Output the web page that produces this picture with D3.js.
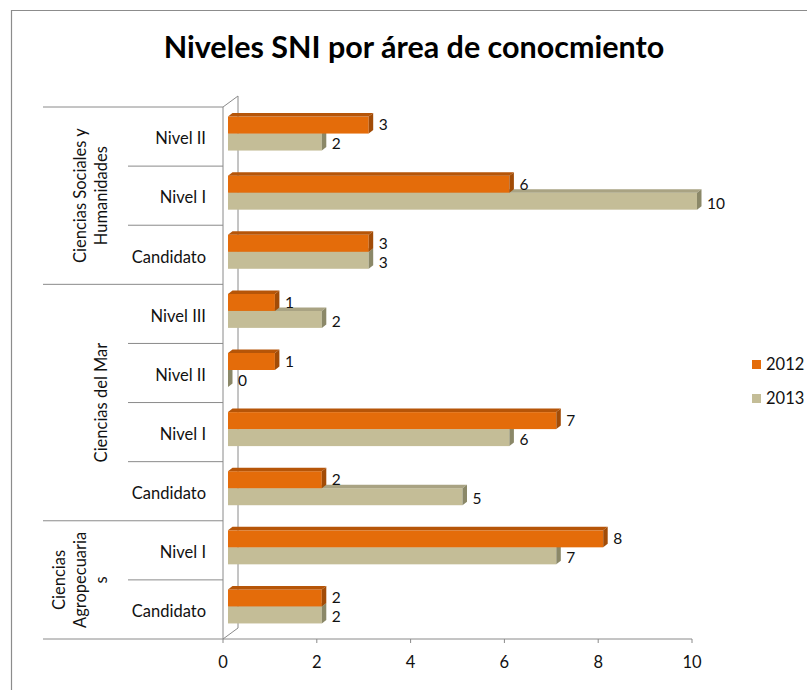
<!DOCTYPE html>
<meta charset="utf-8">
<div id="chart"></div>
<style>
body { margin: 0; background: #fff; font-family: 'Lato', 'Liberation Sans', sans-serif; }
</style>
<script src="https://d3js.org/d3.v7.min.js"></script>
<script>
// data, top to bottom as in the picture
var series = ["2012", "2013"];
var categories = ["Nivel II", "Nivel I", "Candidato", "Nivel III", "Nivel II", "Nivel I", "Candidato", "Nivel I", "Candidato"];
var categoryGroup = [0, 0, 0, 1, 1, 1, 1, 2, 2];
var groupNames = [["Ciencias Sociales y", "Humanidades"], ["Ciencias del Mar"], ["Ciencias", "Agropecuaria", "s"]];
var values2012 = [3, 6, 3, 1, 1, 7, 2, 8, 2];
var values2013 = [2, 10, 3, 2, 0, 6, 5, 7, 2];
var xTicks = [0, 2, 4, 6, 8, 10];

var colors = {
  "2012": { front: "#e46c0a", top: "#b65508", side: "#a24c07" },
  "2013": { front: "#c4bd97", top: "#a9a383", side: "#8b8868" }
};

var w = 807, h = 690;
var fs = "16.5px";
var svg = d3.select("#chart").append("svg").attr("width", w).attr("height", h);

// outer frame
svg.append("path")
  .attr("d", "M11.5," + h + "V10.5H" + w)
  .attr("fill", "none").attr("stroke", "#8c8c8c").attr("stroke-width", 1.2);

svg.append("text")
  .attr("x", 414).attr("y", 58)
  .attr("text-anchor", "middle")
  .style("font-size", "30.5px").style("font-weight", "bold")
  .text("Niveles SNI por área de conocmiento");

var x = d3.scaleLinear().domain([0, 10]).range([223, 692]);
var y = d3.scaleBand().domain(d3.range(categories.length)).range([107, 639]);
var yS = d3.scaleBand().domain(series).range([-20, 14]);

var wallDx = 15, wallDy = -11;   // depth of the walls
var barOff = 5;                  // bars sit a bit behind the front axis
var dx = 4.5, dy = 3.5;          // depth of each bar

var grey = "#8a8a8a";
var axes = svg.append("g").attr("fill", "none").attr("stroke", grey).attr("stroke-width", 1);

// back wall + front axis
axes.append("path").attr("d",
  "M" + x(0) + "," + y.range()[0] + "l" + wallDx + "," + wallDy +
  "V" + (y.range()[1] + wallDy) + "L" + x(0) + "," + y.range()[1]);
axes.append("line").attr("x1", x(0)).attr("x2", x(0)).attr("y1", y.range()[0]).attr("y2", y.range()[1]);

// bottom value axis
axes.append("line").attr("x1", x(0)).attr("x2", x(10)).attr("y1", 639).attr("y2", 639);
axes.selectAll(".tick").data(xTicks).enter().append("line")
  .attr("x1", function (d) { return x(d); }).attr("x2", function (d) { return x(d); })
  .attr("y1", 639).attr("y2", 643);

svg.selectAll(".xlab").data(xTicks).enter().append("text")
  .attr("x", function (d) { return x(d); }).attr("y", 662).attr("dy", "0.35em")
  .attr("text-anchor", "middle").style("font-size", fs).attr("fill", "#111")
  .text(function (d) { return d; });

// category table lines
var bounds = d3.range(categories.length + 1);
axes.selectAll(".rowline").data(bounds).enter().append("line")
  .attr("x1", function (i) {
    var isGroup = i === 0 || i === categories.length || categoryGroup[i] !== categoryGroup[i - 1];
    return isGroup ? 43 : 128;
  })
  .attr("x2", x(0))
  .attr("y1", function (i) { return i < categories.length ? y(i) : y.range()[1]; })
  .attr("y2", function (i) { return i < categories.length ? y(i) : y.range()[1]; });

svg.selectAll(".catlab").data(categories).enter().append("text")
  .attr("x", 206).attr("y", function (d, i) { return y(i) + y.bandwidth() / 2 + 2; })
  .attr("dy", "0.35em").attr("text-anchor", "end")
  .style("font-size", fs).attr("fill", "#111")
  .text(function (d) { return d; });

// group labels, rotated
groupNames.forEach(function (lines, g) {
  var idx = categoryGroup.map(function (c, i) { return c === g ? i : -1; }).filter(function (i) { return i >= 0; });
  var cy = (y(idx[0]) + y(idx[idx.length - 1]) + y.bandwidth()) / 2;
  lines.forEach(function (t, k) {
    var cx = 101 - (lines.length - 1 - k) * 21;
    svg.append("text")
      .attr("transform", "translate(" + cx + "," + cy + ") rotate(-90)")
      .attr("dy", "0.35em").attr("text-anchor", "middle")
      .style("font-size", fs).attr("fill", "#111")
      .text(t);
  });
});

// bars
var rows = categories.map(function (c, i) {
  return [{ s: "2013", v: values2013[i], i: i }, { s: "2012", v: values2012[i], i: i }];
});
var k = x(1) - x(0);
var bars = svg.append("g");
rows.forEach(function (row) {
  row.forEach(function (d) {
    var x0 = x(0) + barOff, x1 = x0 + d.v * k;
    var y0 = y(d.i) + y.bandwidth() / 2 + yS(d.s), y1 = y0 + yS.bandwidth();
    var c = colors[d.s];
    var g = bars.append("g");
    g.append("rect").attr("x", x0).attr("y", y0).attr("width", x1 - x0).attr("height", y1 - y0).attr("fill", c.front);
    g.append("path").attr("fill", c.top)
      .attr("d", "M" + x0 + "," + y0 + "l" + dx + "," + (-dy) + "H" + (x1 + dx) + "L" + x1 + "," + y0 + "Z");
    g.append("path").attr("fill", c.side)
      .attr("d", "M" + x1 + "," + y0 + "l" + dx + "," + (-dy) + "V" + (y1 - dy) + "L" + x1 + "," + y1 + "Z");
  });
});
// value labels next to the bars
rows.forEach(function (row) {
  row.forEach(function (d) {
    var x1 = x(0) + barOff + d.v * k;
    var yc = y(d.i) + y.bandwidth() / 2 + yS(d.s) + yS.bandwidth() / 2;
    svg.append("text").attr("x", x1 + 10).attr("y", yc + (d.s === "2012" ? 0 : 2)).attr("dy", "0.35em")
      .style("font-size", "15.5px").attr("fill", "#111").text(d.v);
  });
});

// legend
var legend = svg.selectAll(".legend").data(series).enter().append("g")
  .attr("transform", function (d, i) { return "translate(752," + (360 + i * 34) + ")"; });
legend.append("rect").attr("width", 9).attr("height", 9).attr("fill", function (d) { return colors[d].front; });
legend.append("text").attr("x", 14).attr("y", 4.5).attr("dy", "0.35em")
  .style("font-size", fs).attr("fill", "#111").text(function (d) { return d; });
</script>
